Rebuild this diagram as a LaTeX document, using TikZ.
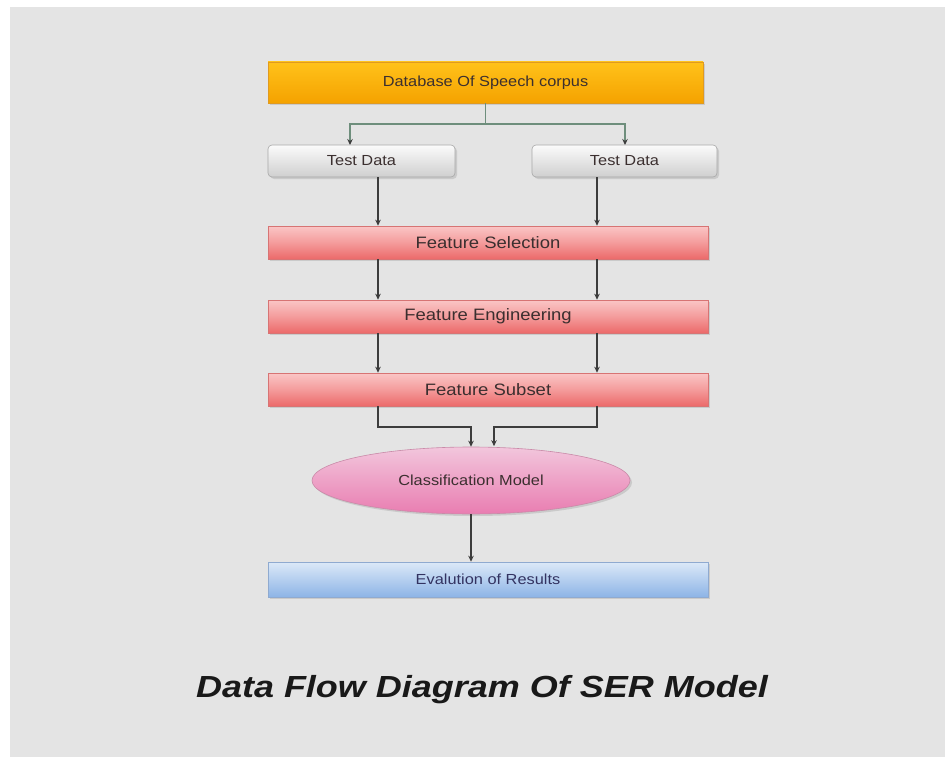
\documentclass[tikz,border=0pt]{standalone}
\usepackage{fontspec}
\setmainfont{Liberation Sans}
\usetikzlibrary{arrows.meta,shapes.geometric,shadows}
\definecolor{bg}{HTML}{E4E4E4}
\definecolor{txt}{HTML}{3B2F2F}
\definecolor{orgtop}{HTML}{FFC21A}
\definecolor{orgbot}{HTML}{F5A200}
\definecolor{orgline}{HTML}{E09A20}
\definecolor{gtop}{HTML}{FBFBFB}
\definecolor{gbot}{HTML}{CFCFCF}
\definecolor{gline}{HTML}{A8A8A8}
\definecolor{rtop}{HTML}{FAC6C6}
\definecolor{rmid}{HTML}{F49C9C}
\definecolor{rbot}{HTML}{EC6A6A}
\definecolor{rline}{HTML}{D77474}
\definecolor{ptop}{HTML}{F2C6DC}
\definecolor{pbot}{HTML}{E97DB1}
\definecolor{pline}{HTML}{C98AA8}
\definecolor{btop}{HTML}{DCE9F8}
\definecolor{bbot}{HTML}{8DB4E6}
\definecolor{bline}{HTML}{8FAAD0}
\definecolor{conn}{HTML}{3C3C3C}
\definecolor{green}{HTML}{6E8E7C}
\newcommand\wtxt[1]{\scalebox{1.12}[1]{#1}}
\tikzset{
  base/.style={rectangle, inner sep=0pt, line width=0.6pt,
    font=\fontsize{14.6}{16}\selectfont, text=txt,
    drop shadow={shadow xshift=2pt, shadow yshift=-2pt, opacity=0.25}},
  orgbox/.style={base, draw=orgline, top color=orgtop, bottom color=orgbot},
  graybox/.style={base, draw=gline, top color=gtop, bottom color=gbot, rounded corners=4pt},
  redbox/.style={base, draw=rline, top color=rtop, bottom color=rbot, middle color=rmid,
    font=\fontsize{16.5}{18}\selectfont},
  bluebox/.style={base, draw=bline, top color=btop, bottom color=bbot, text=black!70!blue!60!gray},
  pinkell/.style={base, ellipse, draw=pline, top color=ptop, bottom color=pbot, text=txt},
  arr/.style={draw=conn, line width=1.3pt, -{Stealth[length=6pt,width=5.5pt]}},
  glin/.style={draw=green, line width=1.4pt},
  garr/.style={draw=green, line width=1.4pt, -{Stealth[length=6pt,width=5.5pt,color=conn]}}
}
\begin{document}
\begin{tikzpicture}[x=1pt,y=-1pt]
\useasboundingbox (0,0) rectangle (945,757);
\fill[white] (0,0) rectangle (945,757);
\fill[bg] (10,7) rectangle (945,757);

\node[orgbox, minimum width=435pt, minimum height=41pt] (db) at (485.5,82.5) {\wtxt{Database Of Speech corpus}};
\node[graybox, minimum width=187pt, minimum height=32pt] (tl) at (361.5,161) {\wtxt{Test Data}};
\node[graybox, minimum width=185pt, minimum height=32pt] (tr) at (624.5,161) {\wtxt{Test Data}};
\node[redbox, minimum width=440pt, minimum height=33pt] (fs) at (488,242.5) {\wtxt{Feature Selection}};
\node[redbox, minimum width=440pt, minimum height=33pt] (fe) at (488,316.5) {\wtxt{Feature Engineering}};
\node[redbox, minimum width=440pt, minimum height=33pt] (fsub) at (488,389.5) {\wtxt{Feature Subset}};
\node[pinkell, minimum width=318pt, minimum height=67pt] (cm) at (471,480.5) {\wtxt{Classification Model}};
\node[bluebox, minimum width=440pt, minimum height=35pt] (ev) at (488,579.5) {\wtxt{Evalution of Results}};

\node[font=\fontsize{30.5}{34}\selectfont\bfseries\itshape, text=black!90] (title) at (482,690) {\scalebox{1.18}[1]{Data Flow Diagram Of SER Model}};

\coordinate (split) at (485.5,124);
\coordinate (tla) at (350,145);
\coordinate (tra) at (625,145);
\coordinate (L) at (378,0);
\coordinate (R) at (597,0);
\coordinate (jL) at (471,427);
\coordinate (jR) at (494,427);

\draw[glin] (db.south -| split) -- (split);
\draw[garr] (split) -| (tla);
\draw[garr] (split) -| (tra);

\draw[arr] (tl.south -| L) -- (fs.north -| L);
\draw[arr] (tr.south -| R) -- (fs.north -| R);
\draw[arr] (fs.south -| L) -- (fe.north -| L);
\draw[arr] (fs.south -| R) -- (fe.north -| R);
\draw[arr] (fe.south -| L) -- (fsub.north -| L);
\draw[arr] (fe.south -| R) -- (fsub.north -| R);

\draw[arr] (fsub.south -| L) |- (jL) -- (cm.north);
\draw[arr] (fsub.south -| R) |- (jR) -- ([yshift=0.5pt]jR |- cm.north);
\draw[arr] (cm.south) -- (cm.south |- ev.north);
\end{tikzpicture}
\end{document}
